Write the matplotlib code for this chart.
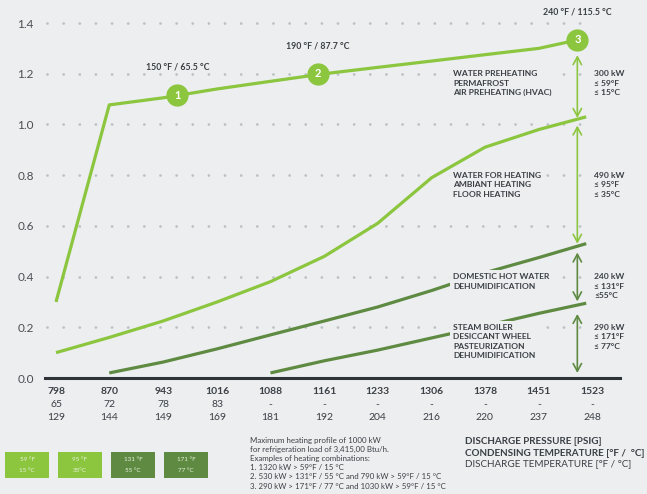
import numpy as np
import matplotlib.pyplot as plt
from matplotlib.patches import Rectangle

plt.rcParams['font.family'] = ['Lato', 'DejaVu Sans']

# x axis: discharge pressure [psig], condensing temp, discharge temp
pressure = [798, 870, 943, 1016, 1088, 1161, 1233, 1306, 1378, 1451, 1523]
cond_temp = ['65', '72', '78', '83', '-', '-', '-', '-', '-', '-', '-']
disch_temp = ['129', '144', '149', '169', '181', '192', '204', '216', '220', '237', '248']

# curves (heating capacity ratio)
x_59 = [798, 870, 943, 1016, 1088, 1161, 1233, 1306, 1378, 1451, 1503]
y_59 = [0.30, 1.077, 1.105, 1.14, 1.17, 1.20, 1.225, 1.25, 1.275, 1.30, 1.333]
x_95 = [798, 870, 943, 1016, 1088, 1161, 1233, 1306, 1378, 1451, 1515]
y_95 = [0.10, 0.16, 0.225, 0.30, 0.38, 0.48, 0.61, 0.79, 0.91, 0.98, 1.03]
x_131 = [870, 943, 1016, 1088, 1161, 1233, 1306, 1378, 1451, 1515]
y_131 = [0.02, 0.063, 0.115, 0.17, 0.225, 0.28, 0.345, 0.415, 0.475, 0.53]
x_171 = [1088, 1161, 1233, 1306, 1378, 1451, 1515]
y_171 = [0.02, 0.068, 0.11, 0.158, 0.205, 0.255, 0.295]

# numbered points on the top curve
mark_x = [962, 1152, 1503]
mark_y = [1.116, 1.20, 1.333]
mark_lbl = ['150 °F / 65.5 °C', '190 °F / 87.7 °C', '240 °F / 115.5 °C']

yticks = [0.0, 0.2, 0.4, 0.6, 0.8, 1.0, 1.2, 1.4]

zones = [
    (1.2, 'WATER PREHEATING\nPERMAFROST\nAIR PREHEATING (HVAC)', '300 kW\n≤ 59°F\n≤ 15°C'),
    (0.8, 'WATER FOR HEATING\nAMBIANT HEATING\nFLOOR HEATING', '490 kW\n≤ 95°F\n≤ 35°C'),
    (0.4, 'DOMESTIC HOT WATER\nDEHUMIDIFICATION', '240 kW\n≤ 131°F\n≤55°C'),
    (0.2, 'STEAM BOILER\nDESICCANT WHEEL\nPASTEURIZATION\nDEHUMIDIFICATION', '290 kW\n≤ 171°F\n≤ 77°C'),
]

legend_f = ['59 °F', '95 °F', '131 °F', '171 °F']
legend_c = ['15 °C', '35°C', '55 °C', '77 °C']

note = ("Maximum heating profile of 1000 kW\n"
        "for refrigeration load of 3,415,00 Btu/h.\n"
        "Examples of heating combinations:\n"
        "1. 1320 kW > 59°F / 15 °C\n"
        "2. 530 kW > 131°F / 55 °C and 790 kW > 59°F / 15 °C\n"
        "3. 290 kW > 171°F / 77 °C and 1030 kW > 59°F / 15 °C")

bg = '#eceef0'
light = '#8cc63f'
dark = '#5e8a42'
txt = '#3b4045'

fig = plt.figure(figsize=(6.47, 4.94), dpi=100, facecolor=bg)
W, H = 647, 494
ax = fig.add_axes([45 / W, 1 - 378 / H, 575 / W, 373 / H])
ax.set_facecolor(bg)
ax.set_xlim(783.1, 1560.7)
ax.set_ylim(0, 1.471)
for s in ['top', 'right', 'left']:
    ax.spines[s].set_visible(False)
ax.spines['bottom'].set_color('#2d3338')
ax.spines['bottom'].set_linewidth(2.2)

# dotted grid
for yv in yticks[1:]:
    ax.plot([786, 1516], [yv, yv], color='#b9c1c5', lw=2.0,
            linestyle=(0, (0.01, 5.8)), dash_capstyle='round', zorder=1)

ax.set_yticks(yticks)
ax.set_yticklabels([f'{v:.1f}' for v in yticks], fontsize=8.5, color='#4a4f54')
ax.tick_params(axis='y', length=0, pad=8)
ax.set_xticks([])

lw = 2.3
ax.plot(x_59, y_59, color=light, lw=lw, zorder=3, solid_capstyle='butt')
ax.plot(x_95, y_95, color=light, lw=lw, zorder=3, solid_capstyle='butt')
ax.plot(x_131, y_131, color=dark, lw=lw, zorder=3, solid_capstyle='butt')
ax.plot(x_171, y_171, color=dark, lw=lw, zorder=3, solid_capstyle='butt')

for i, (mx, my, lb) in enumerate(zip(mark_x, mark_y, mark_lbl)):
    ax.plot(mx, my, 'o', ms=15, color=light, mec=light, zorder=5)
    ax.text(mx, my, str(i + 1), ha='center', va='center', color='white',
            fontsize=8, fontweight='bold', zorder=6)
    ax.annotate(lb, (mx, my), xytext=(0, 20), textcoords='offset points',
                ha='center', va='center', fontsize=6.3, fontweight='bold',
                color=txt, annotation_clip=False)

# brackets between curves
xa = mark_x[2]
top = mark_y[2]
v95 = np.interp(xa, x_95, y_95)
v131 = np.interp(xa, x_131, y_131)
v171 = np.interp(xa, x_171, y_171)
spans = [(top - 0.06, v95 + 0.005, light), (v95 - 0.025, v131 + 0.01, light),
         (v131 - 0.025, v171 + 0.015, dark), (v171 - 0.035, 0.02, dark)]
for y0, y1, c in spans:
    ax.annotate('', xy=(xa, y1), xytext=(xa, y0),
                arrowprops=dict(arrowstyle='<->,head_length=0.55,head_width=0.3',
                                color=c, lw=1.2, shrinkA=0, shrinkB=0), zorder=4)

for yv, left, right in zones:
    ax.text(1335, yv + 0.013, left, ha='left', va='top', fontsize=6.1,
            fontweight='bold', color=txt, linespacing=1.4, zorder=4,
            bbox=dict(boxstyle='square,pad=0.35', fc=bg, ec='none'))
    ax.text(1526, yv + 0.013, right, ha='left', va='top', fontsize=6.1,
            fontweight='bold', color=txt, linespacing=1.4, zorder=4,
            bbox=dict(boxstyle='square,pad=0.2', fc=bg, ec='none'))

# three-row x labels
tr = ax.get_xaxis_transform()
for p, c, d in zip(pressure, cond_temp, disch_temp):
    ax.text(p, -0.0375, str(p), transform=tr, ha='center', va='center',
            fontsize=7.5, fontweight='bold', color=txt)
    ax.text(p, -0.072, c, transform=tr, ha='center', va='center',
            fontsize=7.5, color=txt)
    ax.text(p, -0.107, d, transform=tr, ha='center', va='center',
            fontsize=7.5, color=txt)

# colour legend boxes
cols = [light, light, dark, dark]
for i, (f, c, col) in enumerate(zip(legend_f, legend_c, cols)):
    x0 = 5 + i * 53
    fig.patches.append(Rectangle((x0 / W, 1 - 478 / H), 44 / W, 26 / H,
                                 transform=fig.transFigure, fc=col, ec='none'))
    fig.text((x0 + 22) / W, 1 - 459 / H, f, ha='center', va='center',
             fontsize=4.5, color='#e8f2dc')
    fig.text((x0 + 22) / W, 1 - 471 / H, c, ha='center', va='center',
             fontsize=4.5, color='#e8f2dc')

fig.text(250 / W, 1 - 437 / H, note, ha='left', va='top', fontsize=5.7,
         color=txt, linespacing=1.35)

fig.text(465 / W, 1 - 441 / H, 'DISCHARGE PRESSURE [PSIG]', ha='left',
         va='center', fontsize=7.1, fontweight='bold', color=txt)
fig.text(465 / W, 1 - 453 / H, 'CONDENSING TEMPERATURE [°F /  °C]', ha='left',
         va='center', fontsize=7.1, fontweight='bold', color=txt)
fig.text(465 / W, 1 - 464 / H, 'DISCHARGE TEMPERATURE [°F / °C]', ha='left',
         va='center', fontsize=7.1, color=txt)

fig.savefig('out.png', dpi=100, facecolor=bg)
